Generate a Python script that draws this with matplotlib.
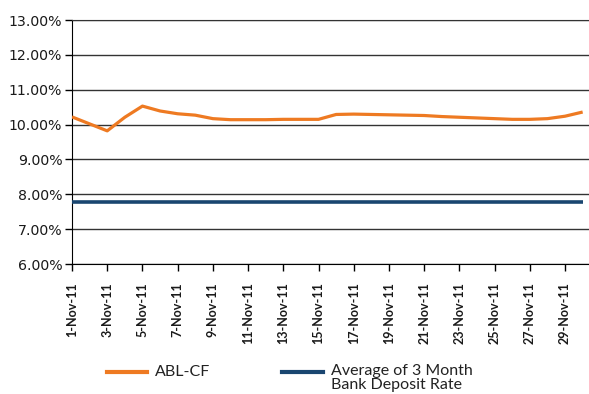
import matplotlib
matplotlib.use("Agg")
import matplotlib.pyplot as plt
from matplotlib.lines import Line2D

# ---- data ----
days = list(range(1, 31))
abl_cf = [10.22, 10.02, 9.82, 10.21, 10.53, 10.39, 10.31, 10.27, 10.17, 10.14,
          10.14, 10.14, 10.15, 10.15, 10.15, 10.29, 10.30, 10.29, 10.28, 10.27,
          10.26, 10.23, 10.21, 10.19, 10.17, 10.15, 10.15, 10.17, 10.24, 10.36]
bank_rate = [7.79] * 30
tick_days = list(range(1, 30, 2))
tick_labels = [f"{d}-Nov-11" for d in tick_days]
y_ticks = [6, 7, 8, 9, 10, 11, 12, 13]
y_labels = [f"{v:.2f}%" for v in y_ticks]
series_names = ["ABL-CF", "Average of 3 Month\nBank Deposit Rate"]

orange = "#EE7A22"
navy = "#1A4670"

W, H = 589, 394
fig = plt.figure(figsize=(W / 100, H / 100), dpi=100)
ax = fig.add_axes([72 / W, 130 / H, 517 / W, 244 / H])

ax.plot(days, abl_cf, color=orange, lw=2.3, solid_capstyle="butt", zorder=3)
ax.plot(days, bank_rate, color=navy, lw=2.6, solid_capstyle="butt", zorder=3)

ax.set_xlim(1, 30.36)
ax.set_ylim(6, 13)
ax.set_yticks(y_ticks)
ax.set_yticklabels(y_labels, fontsize=10.2, color="#1a1a1a", family="DejaVu Sans")
ax.set_xticks(tick_days)
ax.set_xticklabels(tick_labels, rotation=90, fontsize=9, family="Lato",
                   color="#1a1a1a", fontweight="bold")
ax.tick_params(axis="both", direction="out", length=5, width=1, color="black")
ax.tick_params(axis="x", pad=8)
ax.tick_params(axis="y", pad=2)

ax.yaxis.grid(True, color="#333333", lw=1)
ax.set_axisbelow(True)
ax.spines["right"].set_visible(False)
ax.spines["top"].set_color("#333333")
ax.spines["left"].set_color("black")
ax.spines["bottom"].set_color("black")

# legend (drawn manually in figure pixels)
def px(x, y):
    return x / W, 1 - y / H

x0, y0 = px(107, 372)
x1, _ = px(147, 372)
fig.add_artist(Line2D([x0, x1], [y0, y0], color=orange, lw=3, transform=fig.transFigure))
fig.text(*px(155, 372), series_names[0], family="Lato", fontsize=11.5,
         color="#222222", va="center", ha="left")
x0, y0 = px(282, 372)
x1, _ = px(323, 372)
fig.add_artist(Line2D([x0, x1], [y0, y0], color=navy, lw=3, transform=fig.transFigure))
fig.text(*px(331, 364), series_names[1], family="Lato", fontsize=11.5,
         color="#222222", va="top", ha="left", linespacing=1.0)

fig.savefig("out.png", dpi=100, facecolor="white")
